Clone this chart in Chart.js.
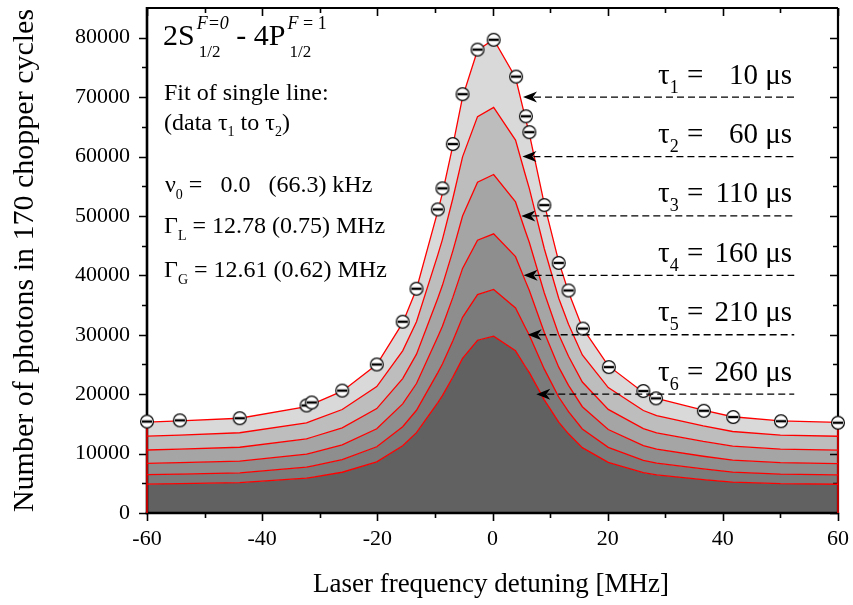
<!DOCTYPE html>
<html><head><meta charset="utf-8">
<script src="https://cdn.jsdelivr.net/npm/chart.js@4.4.0/dist/chart.umd.min.js"></script>
<style>html,body{margin:0;padding:0;background:#fff}#c{display:block}</style>
</head><body>
<canvas id="c" width="853" height="605"></canvas>
<script>
// ---------- data ----------
const detuning = [-60, -54.3, -43.9, -32.3, -31.4, -26.1, -20.1, -15.6, -13.2, -9.5, -8.7, -6.9, -5.2, -2.6, 0.2, 4.0, 5.7, 6.4, 9.0, 11.5, 13.2, 15.6, 20.1, 26.2, 28.5, 36.6, 41.7, 50.0, 60];
const tau1Fit = [15300, 15500, 15950, 17900, 18280, 20500, 25000, 32000, 37700, 50800, 53800, 61800, 70000, 77900, 79700, 73300, 66500, 63800, 52000, 42300, 37200, 31200, 24800, 20300, 19300, 17300, 16200, 15500, 15250];
const tau2Fit = [12950, 13120, 13510, 15180, 15510, 17420, 21280, 27300, 32190, 43450, 46020, 52890, 59940, 66720, 68270, 62770, 56930, 54610, 44480, 36140, 31760, 26610, 21110, 17250, 16390, 14670, 13720, 13120, 12920];
const tau3Fit = [10600, 10740, 11070, 12470, 12750, 14340, 17580, 22620, 26730, 36160, 38320, 44080, 49980, 55670, 56970, 52360, 47460, 45520, 37020, 30040, 26370, 22050, 17440, 14200, 13480, 12040, 11250, 10740, 10570];
const tau4Fit = [8350, 8470, 8740, 9910, 10140, 11470, 14170, 18370, 21790, 29650, 31450, 36250, 41170, 45910, 46990, 43150, 39070, 37450, 30370, 24550, 21490, 17890, 14050, 11350, 10750, 9550, 8890, 8470, 8320];
const tau5Fit = [6450, 6550, 6760, 7710, 7890, 8970, 11150, 14530, 17290, 23630, 25080, 28960, 32930, 36750, 37620, 34520, 31230, 29920, 24210, 19520, 17050, 14150, 11050, 8870, 8390, 7420, 6890, 6550, 6430];
const tau6Fit = [4850, 4930, 5100, 5860, 6000, 6860, 8600, 11310, 13520, 18590, 19750, 22850, 26020, 29080, 29770, 27300, 24660, 23620, 19050, 15300, 13330, 11000, 8530, 6790, 6400, 5620, 5200, 4930, 4840];

const measX = [-60, -54.3, -43.9, -32.3, -31.4, -26.1, -20.1, -15.6, -13.2, -9.5, -8.7, -6.9, -5.2, -2.6, 0.2, 4.1, 5.8, 6.4, 9.0, 11.5, 13.2, 15.7, 20.2, 26.2, 28.4, 36.7, 41.8, 50.1, 60];
const measY = [15400, 15600, 15950, 18100, 18600, 20600, 25000, 32200, 37750, 51100, 54650, 62100, 70500, 78000, 79650, 73450, 66770, 64100, 51830, 42100, 37460, 31040, 24560, 20530, 19300, 17200, 16150, 15450, 15200];

const xTickValues = [-60, -40, -20, 0, 20, 40, 60];
const yTickValues = [0, 10000, 20000, 30000, 40000, 50000, 60000, 70000, 80000];

const tauIndex = ['1', '2', '3', '4', '5', '6'];
const tauTimes = ['10', '60', '110', '160', '210', '260'];
const arrowLevels = [70000, 60000, 50000, 40000, 30000, 20000];
const arrowTips = [5.3, 5.2, 5.0, 5.4, 6.1, 7.6];
const arrowTail = 52.4;

// ---------- style ----------
const SERIF = '"Liberation Serif","Times New Roman",serif';
const bandColors = ['#d9d9d9', '#bdbdbd', '#a5a5a5', '#8e8e8e', '#7b7b7b', '#616161'];
const series = [tau1Fit, tau2Fit, tau3Fit, tau4Fit, tau5Fit, tau6Fit];

function makeMarker() {
  const c = document.createElement('canvas');
  c.width = 16; c.height = 16;
  const g = c.getContext('2d');
  g.beginPath(); g.arc(8, 8, 6.4, 0, Math.PI * 2);
  g.fillStyle = '#fff'; g.fill();
  g.lineWidth = 1.2; g.strokeStyle = '#000'; g.stroke();
  g.fillStyle = '#000';
  g.fillRect(3, 6.8, 10, 2.4);
  return c;
}

const datasets = [
  {
    type: 'scatter',
    data: measX.map((x, i) => ({ x, y: measY[i] })),
    pointStyle: makeMarker(),
    pointRadius: 7,
    showLine: false,
    clip: false
  },
  ...series.map((s, k) => ({
    type: 'line',
    data: detuning.map((x, i) => ({ x, y: s[i] })),
    borderColor: '#ff0000',
    borderWidth: 1.3,
    pointRadius: 0,
    tension: 0,
    fill: k < series.length - 1 ? '+1' : 'origin',
    backgroundColor: bandColors[k]
  })),
  {
    type: 'line',
    data: [{ x: detuning[0], y: 0 }, { x: detuning[0], y: tau1Fit[0] }],
    borderColor: '#ff0000', borderWidth: 1.5, pointRadius: 0, fill: false, clip: false
  },
  {
    type: 'line',
    data: [{ x: detuning[detuning.length - 1], y: 0 }, { x: detuning[detuning.length - 1], y: tau1Fit[tau1Fit.length - 1] }],
    borderColor: '#ff0000', borderWidth: 1.5, pointRadius: 0, fill: false, clip: false
  }
];

function run(ctx, x, y, parts) {
  for (const [t, f, dy] of parts) {
    ctx.font = f;
    ctx.fillText(t, x, y + dy);
    x += ctx.measureText(t).width;
  }
  return x;
}

const framePlugin = {
  id: 'frame',
  beforeDatasetsDraw(chart) {
    const { ctx, chartArea: a } = chart;
    const xs = chart.scales.x, ys = chart.scales.y;
    ctx.save();
    ctx.strokeStyle = '#000';
    ctx.lineCap = 'butt';
    ctx.lineWidth = 2; ctx.beginPath(); ctx.moveTo(a.left, a.top); ctx.lineTo(a.right, a.top); ctx.stroke();
    ctx.lineWidth = 2.2; ctx.beginPath(); ctx.moveTo(a.right, a.top); ctx.lineTo(a.right, a.bottom); ctx.stroke();
    ctx.lineWidth = 2.6; ctx.beginPath(); ctx.moveTo(a.left, a.top - 1); ctx.lineTo(a.left, a.bottom + 1.3); ctx.stroke();
    ctx.lineWidth = 2.6; ctx.beginPath(); ctx.moveTo(a.left - 1.3, a.bottom); ctx.lineTo(a.right + 1.1, a.bottom); ctx.stroke();
    ctx.lineWidth = 1.6;
    const xMaj = xTickValues;
    const xMin = xMaj.slice(0, -1).map((v, i) => (v + xMaj[i + 1]) / 2);
    const yMaj = yTickValues;
    const yMin = yMaj.map(v => v + (yMaj[1] - yMaj[0]) / 2).filter(v => v < ys.max);
    ctx.beginPath();
    for (const [vals, len] of [[xMaj, 8], [xMin, 5]]) {
      for (const v of vals) {
        const p = Math.round(xs.getPixelForValue(v)) + 0.5;
        ctx.moveTo(p, a.bottom); ctx.lineTo(p, a.bottom + len);
        ctx.moveTo(p, a.top); ctx.lineTo(p, a.top + len);
      }
    }
    for (const [vals, len] of [[yMaj, 8], [yMin, 5]]) {
      for (const v of vals) {
        const p = Math.round(ys.getPixelForValue(v)) + 0.5;
        ctx.moveTo(a.left - len, p); ctx.lineTo(a.left, p);
        ctx.moveTo(a.right, p); ctx.lineTo(a.right - len, p);
      }
    }
    ctx.stroke();
    ctx.restore();
  },
  afterDatasetsDraw(chart) {
    const { ctx, chartArea: a } = chart;
    const xs = chart.scales.x, ys = chart.scales.y;
    ctx.save();
    ctx.fillStyle = '#000';
    ctx.strokeStyle = '#000';
    arrowLevels.forEach((lv, k) => {
      const y = ys.getPixelForValue(lv);
      const xt = xs.getPixelForValue(arrowTips[k]);
      const xe = xs.getPixelForValue(arrowTail);
      ctx.lineWidth = 1.3;
      ctx.setLineDash([7, 4]);
      ctx.beginPath(); ctx.moveTo(xt + 11, y); ctx.lineTo(xe, y); ctx.stroke();
      ctx.setLineDash([]);
      ctx.beginPath();
      ctx.moveTo(xt, y); ctx.lineTo(xt + 14, y - 5.5); ctx.lineTo(xt + 10, y); ctx.lineTo(xt + 14, y + 5.5);
      ctx.closePath(); ctx.fill();
      const b = y - 13.5;
      ctx.textAlign = 'left'; ctx.textBaseline = 'alphabetic';
      run(ctx, 658, b, [['τ', '29px ' + SERIF, 0], [tauIndex[k], '18px ' + SERIF, 9]]);
      ctx.font = '29px ' + SERIF;
      ctx.fillText('=', 687, b);
      ctx.textAlign = 'right';
      ctx.fillText(tauTimes[k] + ' μs', 792, b);
    });
    ctx.textAlign = 'left';
    let x = run(ctx, 163, 45, [['2S', '30px ' + SERIF, 0]]);
    ctx.font = 'italic 18px ' + SERIF; const w1 = ctx.measureText('F=0').width;
    ctx.fillText('F=0', x + 2, 29);
    ctx.font = '17px ' + SERIF; ctx.fillText('1/2', x + 4, 57);
    x = x + 2 + w1;
    x = run(ctx, x, 45, [[' - 4P', '30px ' + SERIF, 0]]);
    ctx.font = 'italic 18px ' + SERIF; ctx.fillText('F', x + 2, 29);
    const wf = ctx.measureText('F').width;
    ctx.font = '18px ' + SERIF; ctx.fillText(' = 1', x + 2 + wf, 29);
    ctx.font = '17px ' + SERIF; ctx.fillText('1/2', x + 4, 57);
    const F = '24px ' + SERIF, S = '14px ' + SERIF;
    run(ctx, 164, 100, [['Fit of single line:', F, 0]]);
    run(ctx, 164, 130, [['(data τ', F, 0], ['1', S, 6], [' to τ', F, 0], ['2', S, 6], [')', F, 0]]);
    run(ctx, 165, 192, [['ν', F, 0], ['0', S, 7], [' =   0.0   (66.3) kHz', F, 0]]);
    run(ctx, 164, 233, [['Γ', F, 0], ['L', S, 7], [' = 12.78 (0.75) MHz', F, 0]]);
    run(ctx, 164, 277, [['Γ', F, 0], ['G', S, 7], [' = 12.61 (0.62) MHz', F, 0]]);
    ctx.textAlign = 'center';
    ctx.font = '27px ' + SERIF;
    ctx.fillText('Laser frequency detuning [MHz]', 491, 592);
    ctx.save();
    ctx.translate(33, (a.top + a.bottom) / 2);
    ctx.rotate(-Math.PI / 2);
    ctx.font = '30px ' + SERIF;
    ctx.fillText('Number of photons in 170 chopper cycles', 0, 0);
    ctx.restore();
    ctx.restore();
  }
};

new Chart(document.getElementById('c'), {
  type: 'line',
  data: { datasets },
  options: {
    responsive: false,
    devicePixelRatio: 1,
    animation: false,
    events: [],
    layout: { padding: { left: 0, right: 15, top: 1, bottom: 0 } },
    plugins: {
      legend: { display: false },
      tooltip: { enabled: false },
      filler: { drawTime: 'beforeDatasetsDraw' }
    },
    scales: {
      x: {
        type: 'linear', min: -60, max: 60,
        afterBuildTicks: s => { s.ticks = xTickValues.map(v => ({ value: v })); },
        ticks: { callback: v => String(v), font: { family: SERIF, size: 22 }, color: '#000', padding: 13, maxRotation: 0, autoSkip: false },
        grid: { display: false, drawTicks: false },
        border: { display: false },
        afterFit: s => { s.height = 92; s.paddingLeft = 0; s.paddingRight = 0; }
      },
      y: {
        type: 'linear', min: 0, max: 85000,
        afterBuildTicks: s => { s.ticks = yTickValues.map(v => ({ value: v })); },
        ticks: { callback: v => String(v), font: { family: SERIF, size: 22 }, color: '#000', padding: 17, autoSkip: false },
        grid: { display: false, drawTicks: false },
        border: { display: false },
        afterFit: s => { s.width = 147; s.paddingTop = 0; s.paddingBottom = 0; }
      }
    }
  },
  plugins: [framePlugin]
});
</script>
</body></html>
